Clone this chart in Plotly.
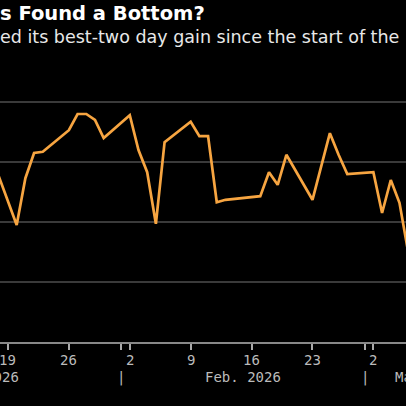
import plotly.graph_objects as go

dates = ["2026-01-16","2026-01-20","2026-01-21","2026-01-22","2026-01-23","2026-01-26","2026-01-27",
         "2026-01-28","2026-01-29","2026-01-30","2026-02-02","2026-02-03","2026-02-04","2026-02-05",
         "2026-02-06","2026-02-09","2026-02-10","2026-02-11","2026-02-12","2026-02-13","2026-02-17",
         "2026-02-18","2026-02-19","2026-02-20","2026-02-23","2026-02-24","2026-02-25","2026-02-26",
         "2026-02-27","2026-03-02","2026-03-03","2026-03-04","2026-03-05","2026-03-06"]
values = [3.53,1.95,2.73,3.15,3.17,3.53,3.80,3.80,3.70,3.40,3.78,3.20,2.83,1.97,3.33,3.67,3.43,
          3.43,2.33,2.37,2.43,2.83,2.62,3.12,2.37,2.95,3.48,3.12,2.80,2.83,2.15,2.70,2.32,1.50]

tick_vals = ["2026-01-19","2026-01-26","2026-02-01","2026-02-02","2026-02-09","2026-02-16",
             "2026-02-23","2026-03-01","2026-03-02"]
tick_text = ["19","26","","2","9","16","23","","2"]
month_labels = ["Jan. 2026", "Feb. 2026", "Mar. 2026"]
seps = ["2026-02-01","2026-03-01"]

fig = go.Figure(go.Scatter(x=dates, y=values, mode="lines",
                           line=dict(color="#f7a541", width=2.7), hoverinfo="skip"))

TOP = 92
H = 342.0 - TOP
def py(p):
    return (342 - p) / H

f = dict(family="DejaVu Sans Mono", size=14, color="#bbbbbb")
ann = []
for d, t in zip(tick_vals, tick_text):
    if t:
        ann.append(dict(x=d, y=py(360), xref="x", yref="paper", text=t, showarrow=False,
                        yanchor="middle", font=f))
ann.append(dict(x=21/406, y=py(377), xref="paper", yref="paper", xanchor="right", yanchor="middle",
                text=month_labels[0], showarrow=False, font=f))
ann.append(dict(x="2026-02-15", y=py(377), xref="x", yref="paper", yanchor="middle",
                text=month_labels[1], showarrow=False, font=f))
ann.append(dict(x=393/406, y=py(377), xref="paper", yref="paper", xanchor="left", yanchor="middle",
                text=month_labels[2], showarrow=False, font=f))
for d in seps:
    ann.append(dict(x=d, y=py(377), xref="x", yref="paper", text="|", showarrow=False,
                    yanchor="middle", font=f))
ann.append(dict(x=-0.005, y=py(14), xref="paper", yref="paper", xanchor="left", yanchor="middle",
                text="<b>s Found a Bottom?</b>", showarrow=False,
                font=dict(family="DejaVu Sans", size=19.5, color="#ffffff")))
ann.append(dict(x=-0.005, y=py(37), xref="paper", yref="paper", xanchor="left", yanchor="middle",
                text="ed its best-two day gain since the start of the", showarrow=False,
                font=dict(family="DejaVu Sans", size=17.5, color="#e8e8e8")))

fig.update_layout(
    width=406, height=406, margin=dict(l=0, r=0, t=TOP, b=64),
    paper_bgcolor="#000000", plot_bgcolor="#000000", showlegend=False,
    annotations=ann,
    xaxis=dict(range=["2026-01-18 02:00","2026-03-05 18:00"], tickmode="array",
               tickvals=tick_vals, ticktext=[""]*len(tick_vals), ticks="outside", ticklen=6,
               tickcolor="#aaaaaa", tickwidth=1.5, showgrid=False, showline=True,
               linecolor="#888888", linewidth=2, zeroline=False),
    yaxis=dict(range=[0, H/60], tickvals=[1, 2, 3, 4], showticklabels=False,
               gridcolor="#3a3a3a", gridwidth=1.5, zeroline=False, showline=False),
)
fig.write_html("out.html", config={"displayModeBar": False},
               post_script="document.body.style.margin='0';document.body.style.background='#000';")
